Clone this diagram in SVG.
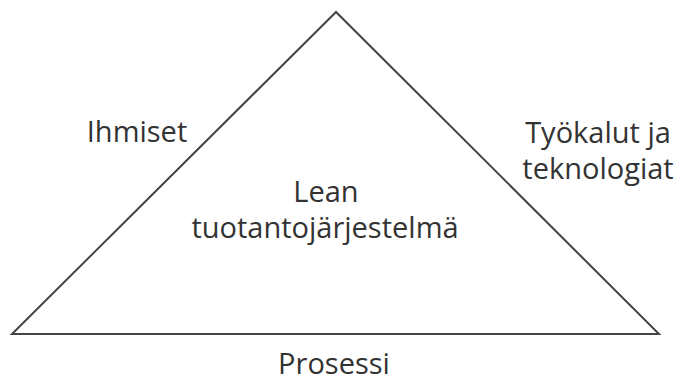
<svg xmlns="http://www.w3.org/2000/svg" width="680" height="383" viewBox="0 0 680 383">
<style>
.t{font-family:"Open Sans","Noto Sans",sans-serif;font-size:29px;fill:#333;text-anchor:middle}
.edge{fill:none;stroke:#444;stroke-width:2;stroke-linejoin:miter}
</style>
<rect width="680" height="383" fill="#fff"/>
<g id="connectors">
<polygon class="edge" points="336,12 12,334 659,334"/>
</g>
<g id="node-center"><text class="t" x="326" y="202">Lean</text><text class="t" x="325" y="238">tuotantojärjestelmä</text></g>
<g id="node-left"><text class="t" x="137" y="142">Ihmiset</text></g>
<g id="node-right"><text class="t" x="598" y="143">Työkalut ja</text><text class="t" x="598" y="179">teknologiat</text></g>
<g id="node-bottom"><text class="t" x="334" y="374">Prosessi</text></g>
</svg>
